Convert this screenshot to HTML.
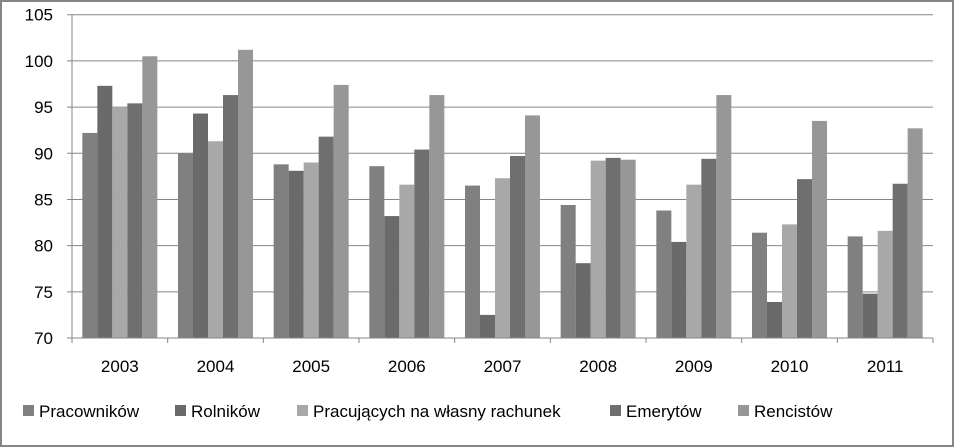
<!DOCTYPE html>
<html><head><meta charset="utf-8"><style>
body{margin:0;background:#fff}
svg{display:block;font-family:"Liberation Sans",sans-serif}
</style></head><body>
<svg id="c" width="955" height="448">
<rect x="1" y="1" width="952" height="445" fill="#fff" stroke="#868686" stroke-width="2"/>
</svg>
<script>
const categories=["2003","2004","2005","2006","2007","2008","2009","2010","2011"];
const seriesNames=["Pracowników","Rolników","Pracujących na własny rachunek","Emerytów","Rencistów"];
const pracownikow=[92.2,90.0,88.8,88.6,86.5,84.4,83.8,81.4,81.0];
const rolnikow=[97.3,94.3,88.1,83.2,72.5,78.1,80.4,73.9,74.8];
const pracujacych=[95.0,91.3,89.0,86.6,87.3,89.2,86.6,82.3,81.6];
const emerytow=[95.4,96.3,91.8,90.4,89.7,89.5,89.4,87.2,86.7];
const rencistow=[100.5,101.2,97.4,96.3,94.1,89.3,96.3,93.5,92.7];
const yTicks=[70,75,80,85,90,95,100,105];
const series=[pracownikow,rolnikow,pracujacych,emerytow,rencistow];
const colors=["#808080","#6a6a6a","#a8a8a8","#6f6f6f","#979797"];
const svg=document.getElementById('c');const NS="http://www.w3.org/2000/svg";
const L=72,R=933,T=14.7,B=338,ymin=70,ymax=105;
const y=v=>B-(v-ymin)/(ymax-ymin)*(B-T);
const bw=(R-L)/categories.length;const barW=15;
function mk(t,a){const e=document.createElementNS(NS,t);for(const k in a)e.setAttribute(k,a[k]);svg.appendChild(e);return e;}
yTicks.forEach(v=>{
 const g=mk('line',{x1:L-5,x2:R,y1:y(v),y2:y(v),stroke:'#868686','stroke-width':1});
 
 
 const t=mk('text',{x:53,y:y(v)+6,'text-anchor':'end','font-size':17,fill:'#000'});t.textContent=v;
 
 
});
mk('line',{x1:L,x2:L,y1:T,y2:B,stroke:'#868686'});
categories.forEach((c,i)=>{
 const x0=L+i*bw;
 const tk=mk('line',{x1:x0,x2:x0,y1:B,y2:B+5,stroke:'#868686'});
 
 
 const start=x0+(bw-barW*5)/2;
 series.forEach((s,j)=>{
  const r=mk('rect',{x:start+j*barW,y:y(s[i]),width:barW,height:B-y(s[i]),fill:colors[j]});
  
  
 });
 const t=mk('text',{x:x0+bw/2,y:372,'text-anchor':'middle','font-size':17});t.textContent=c;
 
 
});
const tkR=mk('line',{x1:R,x2:R,y1:B,y2:B+5,stroke:'#868686'});
mk('line',{x1:L,x2:R,y1:B,y2:B,stroke:'#868686'});
const lx=[23,175,297,610,738];
seriesNames.forEach((n,j)=>{
 const r=mk('rect',{x:lx[j],y:405,width:11,height:11,fill:colors[j]});
 
 
 const t=mk('text',{x:lx[j]+16,y:417,'font-size':17});t.textContent=n;
 
 
});
</script>
</body></html>
